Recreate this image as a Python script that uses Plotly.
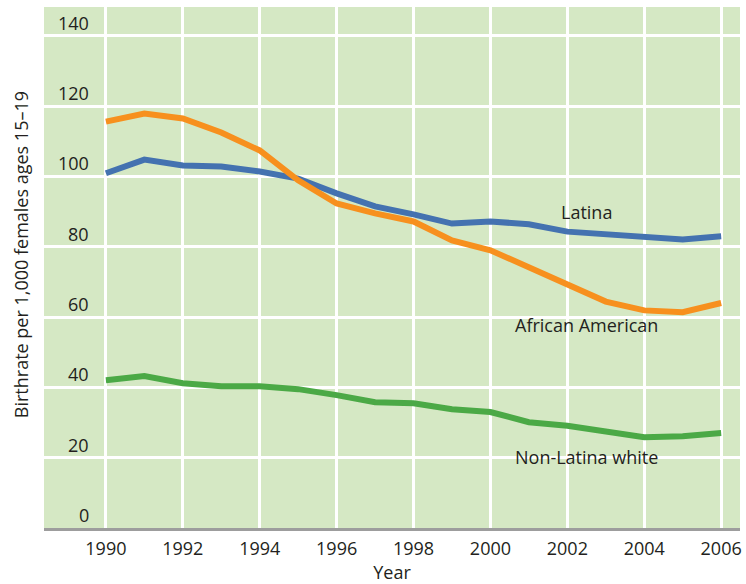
import plotly.graph_objects as go

# Teen birthrates (births per 1,000 females ages 15-19), 1990-2006
years = list(range(1990, 2007))
latina = [100.9, 104.8, 103.1, 102.8, 101.4, 99.4, 95.2, 91.5, 89.2, 86.6,
          87.2, 86.4, 84.3, 83.5, 82.9, 82.1, 83.0]
african_american = [115.6, 117.9, 116.5, 112.5, 107.4, 98.9, 92.3, 89.5, 87.2, 81.8,
                    79.0, 74.1, 69.0, 64.4, 61.9, 61.4, 64.0]
non_latina_white = [42.0, 43.2, 41.2, 40.3, 40.3, 39.5, 37.8, 35.8, 35.5, 33.8,
                    33.0, 30.1, 29.1, 27.4, 25.8, 26.1, 27.0]

x_ticks = list(range(1990, 2007, 2))
y_ticks = [0, 20, 40, 60, 80, 100, 120, 140]

series = [
    ("Latina", latina, "#4472b0", 89.8),
    ("African American", african_american, "#f7901e", 57.7),
    ("Non-Latina white", non_latina_white, "#4ba946", 20.2),
]

FONT = "Open Sans, Noto Sans, sans-serif"
TEXT = "#231f20"
SIZE = 18

fig = go.Figure()
for name, vals, color, _ in series:
    fig.add_trace(go.Scatter(x=years, y=vals, mode="lines", name=name,
                             line=dict(color=color, width=6), showlegend=False))

annotations = []
# Series labels placed beside their lines
for name, _, _, ly in series:
    annotations.append(dict(x=2002.5, y=ly, xref="x", yref="y", text=name,
                            showarrow=False, font=dict(family=FONT, size=SIZE, color=TEXT)))
# Y tick labels sit inside the plot, just above each gridline
for v in y_ticks:
    annotations.append(dict(x=0.068, y=v, xref="paper", yref="y", text=str(v),
                            xanchor="right", yanchor="middle", yshift=13,
                            showarrow=False, font=dict(family=FONT, size=SIZE, color=TEXT)))
# Y axis title
annotations.append(dict(x=-0.032, y=0.525, xref="paper", yref="paper",
                        text="Birthrate per 1,000 females ages 15\u201319",
                        textangle=-90, xanchor="center", yanchor="middle",
                        showarrow=False, font=dict(family=FONT, size=SIZE, color=TEXT)))

fig.update_layout(
    width=746, height=584,
    margin=dict(l=44, r=4, t=7, b=56),
    paper_bgcolor="white",
    plot_bgcolor="#d5e8c4",
    annotations=annotations,
    font=dict(family=FONT, size=SIZE, color=TEXT),
    xaxis=dict(range=[1988.39, 2006.49], tickvals=x_ticks, showgrid=True,
               gridcolor="white", gridwidth=3, zeroline=False,
               showline=True, linecolor="#9d9d9d", linewidth=3,
               ticks="", ticklabelstandoff=2,
               tickfont=dict(family=FONT, size=SIZE, color=TEXT),
               title=dict(text="Year", font=dict(family=FONT, size=SIZE, color=TEXT),
                          standoff=4)),
    yaxis=dict(range=[0, 148.2], tickvals=y_ticks, showticklabels=False,
               showgrid=True, gridcolor="white", gridwidth=3, zeroline=False,
               showline=False, ticks=""),
)

fig.write_html("out.html")
